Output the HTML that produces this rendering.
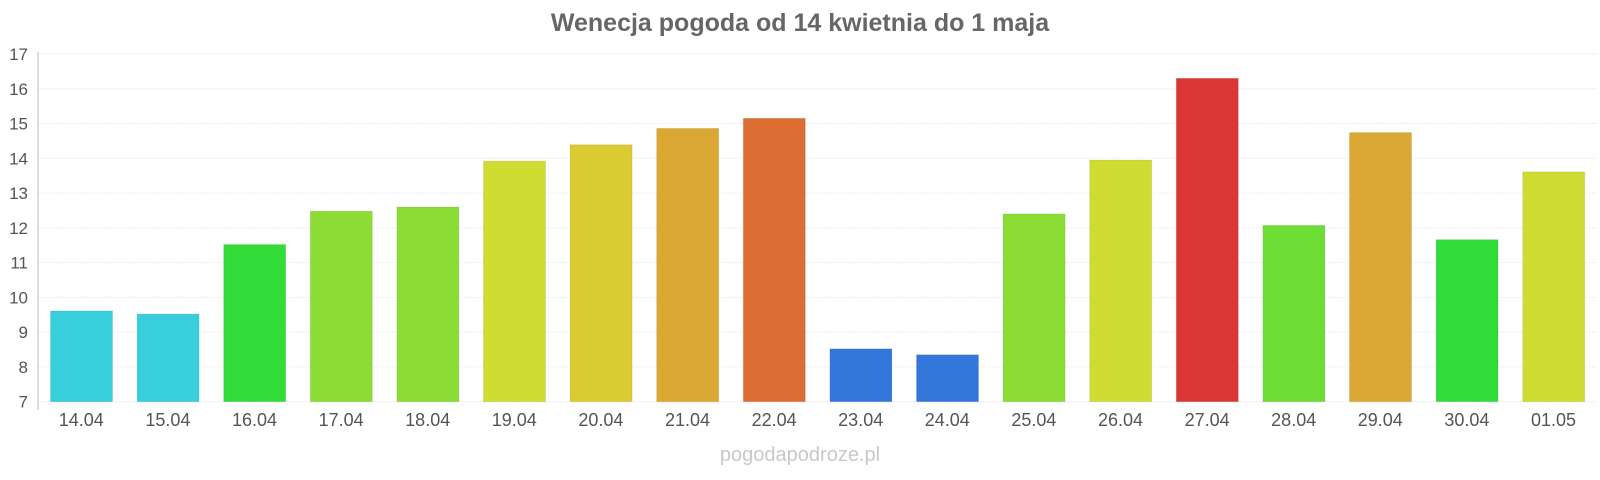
<!DOCTYPE html>
<html><head><meta charset="utf-8"><style>body{margin:0;background:#fff}svg{display:block}</style></head><body>
<svg width="1600" height="480" xmlns="http://www.w3.org/2000/svg" font-family="Liberation Sans, sans-serif">
<text x="800" y="31" text-anchor="middle" font-size="25" font-weight="bold" fill="#666">Wenecja pogoda od 14 kwietnia do 1 maja</text>
<g id="grid" stroke="#eee" stroke-dasharray="2,1"></g>
<g id="bars"></g>
<g id="lbl" font-size="17" fill="#555"></g>
<line x1="38" y1="52" x2="38" y2="410" stroke="#bbb" stroke-width="1"/>
<text x="800" y="461" text-anchor="middle" font-size="20" fill="#c8c8c8">pogodapodroze.pl</text>
</svg>
<script>
var ns="http://www.w3.org/2000/svg";
function el(t,a,p,txt){var e=document.createElementNS(ns,t);for(var k in a)e.setAttribute(k,a[k]);if(txt)e.textContent=txt;document.getElementById(p).appendChild(e);}
var y0=401.7,u=34.77;
for(var v=7;v<=17;v++){var y=y0-(v-7)*u;el('line',{x1:38,x2:1597,y1:y,y2:y},'grid');el('text',{x:28,y:y+6,'text-anchor':'end'},'lbl',String(v));}
var d=[["14.04",9.61,"#36cfdb"],["15.04",9.52,"#36cfdb"],["16.04",11.52,"#34dc39"],["17.04",12.48,"#8bdd35"],["18.04",12.6,"#8bdd35"],["19.04",13.92,"#cfdd33"],["20.04",14.39,"#dbcb33"],["21.04",14.86,"#dba833"],["22.04",15.15,"#dc6d33"],["23.04",8.52,"#3377dc"],["24.04",8.35,"#3377dc"],["25.04",12.4,"#8bdd35"],["26.04",13.95,"#cfdd33"],["27.04",16.3,"#dc3535"],["28.04",12.07,"#6ddc35"],["29.04",14.74,"#dba833"],["30.04",11.66,"#34dc39"],["01.05",13.61,"#cfdd33"]];
var bw=86.6;
d.forEach(function(r,i){var x=38+i*bw+12.5,t=y0-(r[1]-7)*u;el('rect',{x:x,y:t,width:62,height:y0-t,fill:r[2],stroke:"rgba(0,0,0,0.08)"},'bars');el('text',{x:38+i*bw+bw/2,y:426,'text-anchor':'middle','font-size':18},'lbl',r[0]);});
</script>
</body></html>
